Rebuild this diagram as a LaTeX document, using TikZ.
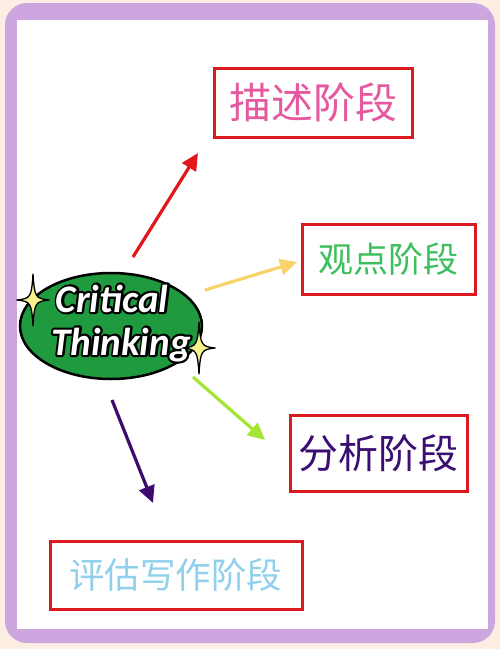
\documentclass[tikz,border=0pt]{standalone}
\usepackage{fontspec}
\usetikzlibrary{arrows.meta}
\newfontfamily\cjk{Noto Sans CJK SC}
\newfontfamily\carlito{Carlito}
\definecolor{bgpeach}{HTML}{FDEEE3}
\definecolor{framepurple}{HTML}{CDA5DF}
\definecolor{boxred}{HTML}{DA1A1F}
\definecolor{txtpink}{HTML}{E55A9E}
\definecolor{txtgreen}{HTML}{3CBF5C}
\definecolor{txtpurple}{HTML}{3B0F72}
\definecolor{txtblue}{HTML}{90D0EC}
\definecolor{ellgreen}{HTML}{1F9A3F}
\definecolor{staryellow}{HTML}{F6F08E}
\definecolor{arrred}{HTML}{E3161B}
\definecolor{arryellow}{HTML}{F8D36B}
\definecolor{arrlime}{HTML}{A3E632}
\definecolor{arrpurple}{HTML}{3D0A70}
\newcommand\outlinedword[1]{\special{pdf:literal 2 Tr 4.4 w 0 G 0 g 1 j}#1\special{pdf:literal 0 Tr}}
\begin{document}
\begin{tikzpicture}[x=1pt,y=-1pt,
  stagebox/.style={draw=boxred,line width=3pt,fill=white,inner sep=0pt},
  stagetext/.style={font=\cjk\fontsize{#1}{#1}\selectfont},
  arr/.style={line width=3.2pt,-{Triangle[length=17pt,width=16pt]}},
  ctext/.style={font=\carlito\bfseries\itshape\fontsize{39}{39}\selectfont,inner sep=0pt,anchor=base},
  sparkle/.pic={\draw[fill=staryellow,line width=1.3pt,line join=round]
    (0,-#1) .. controls (1.5,-2.5) and (2.5,-1.5) .. (0.62*#1,0)
    .. controls (2.5,1.5) and (1.5,2.5) .. (0,#1)
    .. controls (-1.5,2.5) and (-2.5,1.5) .. (-0.62*#1,0)
    .. controls (-2.5,-1.5) and (-1.5,-2.5) .. cycle;}
]
\useasboundingbox (0,0) rectangle (500,649);
\fill[bgpeach] (0,0) rectangle (500,649);
\fill[framepurple,rounded corners=22pt] (5,3) rectangle (495,643);
\fill[white] (17,20) rectangle (488,629);

% stage boxes
\node[stagebox,minimum width=198pt,minimum height=69pt] (desc) at (313,102.5) {};
\node[stagetext=42,text=txtpink] (desct) at (desc.center) {描述阶段};
\node[stagebox,minimum width=173pt,minimum height=70pt] (view) at (388.5,259) {};
\node[stagetext=35,text=txtgreen] (viewt) at (view.center) {观点阶段};
\node[stagebox,minimum width=177pt,minimum height=76pt] (anal) at (378.5,453) {};
\node[stagetext=40,text=txtpurple] (analt) at (anal.center) {分析阶段};
\node[stagebox,minimum width=252pt,minimum height=68pt] (eval) at (176,575) {};
\node[stagetext=35.5,text=txtblue] (evalt) at (eval.center) {评估写作阶段};

% central ellipse
\draw[fill=ellgreen,line width=2.5pt] (111,326) ellipse [x radius=91, y radius=53];
\coordinate (l1) at (112,312);
\coordinate (l2) at (121,355);
\node[ctext,text=black] (critO) at (l1) {\outlinedword{Critical}};
\node[ctext,text=black] (thinkO) at (l2) {\outlinedword{Thinking}};
\node[ctext,text=white] (crit) at (l1) {Critical};
\node[ctext,text=white] (think) at (l2) {Thinking};

% sparkles
\pic at (33,300) {sparkle=26};
\pic at (199,348) {sparkle=26};

% arrows
\coordinate (r0) at (133,257); \coordinate (r1) at (198,153);
\coordinate (y0) at (205,290); \coordinate (y1) at (297,262);
\coordinate (g0) at (193,377); \coordinate (g1) at (265,440);
\coordinate (p0) at (112,400); \coordinate (p1) at (153,503);
\draw[arr,arrred] (r0) -- (r1);
\draw[arr,arryellow] (y0) -- (y1);
\draw[arr,arrlime] (g0) -- (g1);
\draw[arr,arrpurple] (p0) -- (p1);
\end{tikzpicture}
\end{document}
